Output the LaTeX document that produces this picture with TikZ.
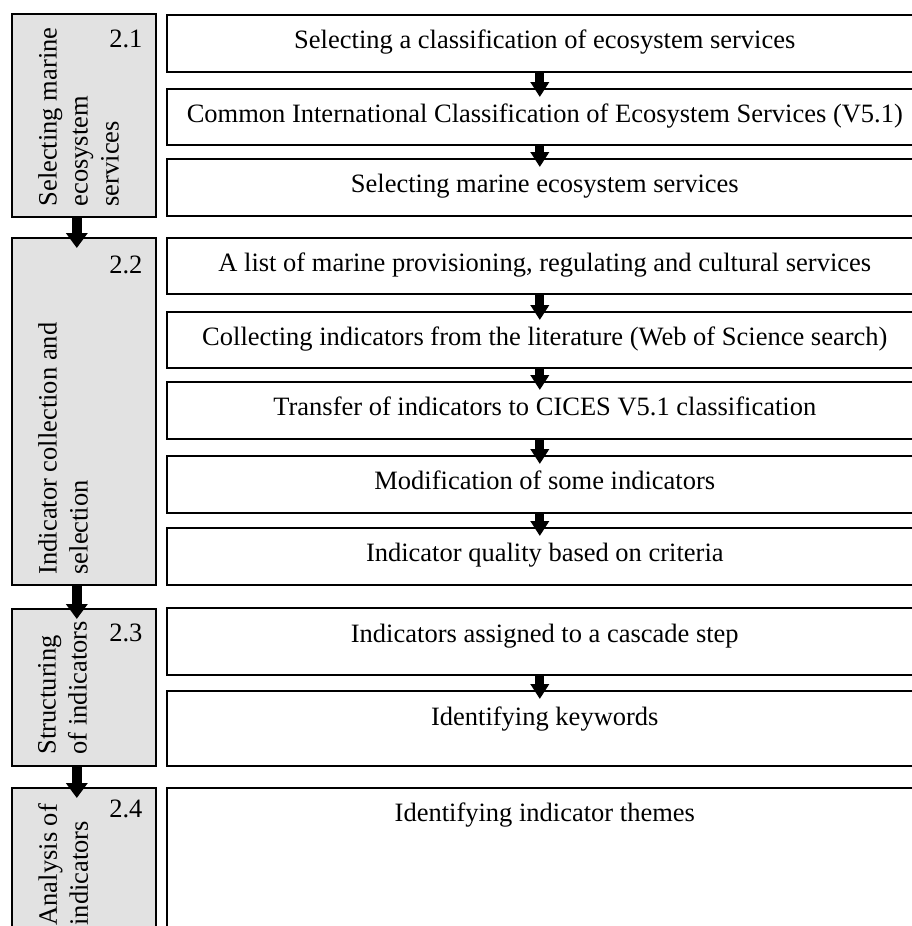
\documentclass[tikz,border=0pt]{standalone}
\usepackage{fontspec}
\setmainfont{Liberation Serif}
\usetikzlibrary{arrows.meta}

\definecolor{phasegray}{RGB}{226,226,226}

\tikzset{
  phase/.style={draw, line width=1.6pt, fill=phasegray, anchor=north west,
    minimum width=144pt, inner sep=0pt},
  stepbox/.style={draw, line width=1.6pt, anchor=north west,
    minimum width=756pt, inner sep=0pt},
  steptext/.style={anchor=base, inner sep=0pt, font=\fontsize{26.5}{31}\selectfont},
  phasetext/.style={rotate=90, anchor=north west, align=left, inner sep=0pt,
    font=\fontsize{26.5}{31}\selectfont},
  phasenum/.style={anchor=base east, inner sep=0pt, font=\fontsize{26.5}{31}\selectfont},
  flowR/.style={line width=9pt, -{Triangle[width=18pt,length=15pt]}},
  flowL/.style={line width=10pt, -{Triangle[width=21pt,length=15pt]}}
}

\begin{document}
\begin{tikzpicture}[x=1pt,y=-1pt]
  \clip (0,0) rectangle (912,926);
  \fill[white] (0,0) rectangle (912,926);

  % phases on the left
  \node[phase, minimum height=203pt] (g1) at (11,13) {};
  \node[phase, minimum height=347pt] (g2) at (11,237) {};
  \node[phase, minimum height=157pt] (g3) at (11,608) {};
  \node[phase, minimum height=148pt] (g4) at (11,787) {};

  \node[phasetext] (v1) at ([xshift=27pt,yshift=11pt]g1.south west) {Selecting marine\\ecosystem\\services};
  \node[phasetext] (v2) at ([xshift=27pt,yshift=11pt]g2.south west) {Indicator collection and\\selection};
  \node[phasetext] (v3) at ([xshift=27pt,yshift=12pt]g3.south west) {Structuring\\of indicators};
  \node[phasetext] (v4) at ([xshift=27pt,yshift=11pt]g4.south west) {Analysis of\\indicators};

  \node[phasenum] (n1) at ([xshift=-14pt,yshift=-34pt]g1.north east) {2.1};
  \node[phasenum] (n2) at ([xshift=-14pt,yshift=-36pt]g2.north east) {2.2};
  \node[phasenum] (n3) at ([xshift=-14pt,yshift=-33pt]g3.north east) {2.3};
  \node[phasenum] (n4) at ([xshift=-14pt,yshift=-30pt]g4.north east) {2.4};

  % steps on the right
  \node[stepbox, minimum height=57pt] (s1) at (166,14) {};
  \node[stepbox, minimum height=56pt] (s2) at (166,88) {};
  \node[stepbox, minimum height=57pt] (s3) at (166,158) {};
  \node[stepbox, minimum height=56pt] (s4) at (166,237) {};
  \node[stepbox, minimum height=56pt] (s5) at (166,311) {};
  \node[stepbox, minimum height=57pt] (s6) at (166,381) {};
  \node[stepbox, minimum height=57pt] (s7) at (166,455) {};
  \node[stepbox, minimum height=57pt] (s8) at (166,527) {};
  \node[stepbox, minimum height=67pt] (s9) at (166,607) {};
  \node[stepbox, minimum height=75pt] (s10) at (166,690) {};
  \node[stepbox, minimum height=148pt] (s11) at (166,787) {};

  \node[steptext] (t1) at ([yshift=-34pt]s1.north) {Selecting a classification of ecosystem services};
  \node[steptext] (t2) at ([yshift=-34pt]s2.north) {Common International Classification of Ecosystem Services (V5.1)};
  \node[steptext] (t3) at ([yshift=-34pt]s3.north) {Selecting marine ecosystem services};
  \node[steptext] (t4) at ([yshift=-34pt]s4.north) {A list of marine provisioning, regulating and cultural services};
  \node[steptext] (t5) at ([yshift=-34pt]s5.north) {Collecting indicators from the literature (Web of Science search)};
  \node[steptext] (t6) at ([yshift=-34pt]s6.north) {Transfer of indicators to CICES V5.1 classification};
  \node[steptext] (t7) at ([yshift=-34pt]s7.north) {Modification of some indicators};
  \node[steptext] (t8) at ([yshift=-34pt]s8.north) {Indicator quality based on criteria};
  \node[steptext] (t9) at ([yshift=-35pt]s9.north) {Indicators assigned to a cascade step};
  \node[steptext] (t10) at ([yshift=-35pt]s10.north) {Identifying keywords};
  \node[steptext] (t11) at ([yshift=-34pt]s11.north) {Identifying indicator themes};

  % arrows
  \draw[flowL] ([xshift=-7pt]g1.south) -- ([xshift=-7pt,yshift=-11pt]g2.north);
  \draw[flowL] ([xshift=-7pt]g2.south) -- ([xshift=-7pt,yshift=-11pt]g3.north);
  \draw[flowL] ([xshift=-7pt]g3.south) -- ([xshift=-7pt,yshift=-11pt]g4.north);

  \draw[flowR] ([xshift=-5pt]s1.south) -- ([xshift=-5pt,yshift=-9pt]s2.north);
  \draw[flowR] ([xshift=-5pt]s2.south) -- ([xshift=-5pt,yshift=-9pt]s3.north);
  \draw[flowR] ([xshift=-5pt]s4.south) -- ([xshift=-5pt,yshift=-9pt]s5.north);
  \draw[flowR] ([xshift=-5pt]s5.south) -- ([xshift=-5pt,yshift=-9pt]s6.north);
  \draw[flowR] ([xshift=-5pt]s6.south) -- ([xshift=-5pt,yshift=-9pt]s7.north);
  \draw[flowR] ([xshift=-5pt]s7.south) -- ([xshift=-5pt,yshift=-9pt]s8.north);
  \draw[flowR] ([xshift=-5pt]s9.south) -- ([xshift=-5pt,yshift=-9pt]s10.north);
\end{tikzpicture}
\end{document}
